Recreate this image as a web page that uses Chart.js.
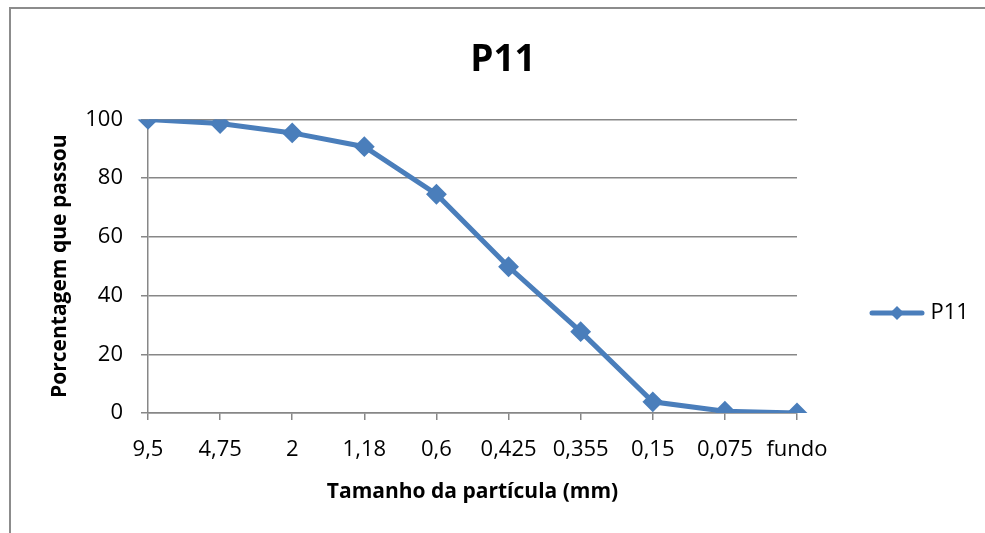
<!DOCTYPE html>
<html>
<head>
<meta charset="utf-8">
<script src="https://cdn.jsdelivr.net/npm/chart.js@4.4.1/dist/chart.umd.min.js"></script>
<style>
    html, body { margin: 0; padding: 0; background: #fff; overflow: hidden; }
    body { width: 985px; height: 533px; position: relative; }
    #frame {
        position: absolute; left: 9px; top: 7px;
        width: 1200px; height: 800px;
        border-left: 2px solid #8c8c8c; border-top: 2px solid #8c8c8c;
    }
    #wrap { position: absolute; left: 0; top: 0; width: 985px; height: 626px; }
</style>
</head>
<body>
<div id="frame"></div>
<div id="wrap"><canvas id="grafico"></canvas></div>
<script>
// dados da curva granulométrica
const peneiras = ['9,5', '4,75', '2', '1,18', '0,6', '0,425', '0,355', '0,15', '0,075', 'fundo'];
const passou = [100, 98.6, 95.4, 90.7, 74.5, 49.8, 27.7, 3.8, 0.6, 0];
const yTicks = [0, 20, 40, 60, 80, 100];

const azul = '#4a7ebb';
const cinza = '#878787';
const fonte = '"Open Sans", "Noto Sans", sans-serif';

// legenda: medidas para que a área do gráfico termine em x = 797
const legPadding = 77.5;
const legIcone = 45;
const legFonte = 22;

function larguraTexto(txt) {
    const g = document.createElement('canvas').getContext('2d');
    g.font = legFonte + 'px ' + fonte;
    return g.measureText(txt).width;
}
const larguraLegenda = legPadding + legIcone + legFonte / 2 + larguraTexto('P11') + 10;
const padDireita = 985 - 797 - larguraLegenda;
// título centrado em x ~ 503
const padEsquerda = 2 * 503 - 985 + padDireita;

// ícone da legenda: linha com losango
function iconeLegenda() {
    const c = document.createElement('canvas');
    c.width = 56;
    c.height = 20;
    const g = c.getContext('2d');
    g.strokeStyle = azul;
    g.lineWidth = 5;
    g.lineCap = 'round';
    g.beginPath();
    g.moveTo(3, 10);
    g.lineTo(53, 10);
    g.stroke();
    g.fillStyle = azul;
    g.beginPath();
    g.moveTo(28, 3);
    g.lineTo(35, 10);
    g.lineTo(28, 17);
    g.lineTo(21, 10);
    g.closePath();
    g.fill();
    return c;
}

Chart.defaults.font.family = fonte;
Chart.defaults.color = '#000';

new Chart(document.getElementById('grafico'), {
    type: 'line',
    data: {
        labels: peneiras,
        datasets: [{
            label: 'P11',
            data: passou,
            borderColor: azul,
            backgroundColor: azul,
            borderWidth: 5,
            pointStyle: 'rectRot',
            pointRadius: 9,
            pointBorderWidth: 2,
            tension: 0
        }]
    },
    options: {
        responsive: true,
        maintainAspectRatio: false,
        animation: false,
        layout: { padding: { left: padEsquerda, right: padDireita, top: 0, bottom: 0 } },
        plugins: {
            title: {
                display: true,
                text: 'P11',
                color: '#000',
                font: { size: 37, weight: 'bold' },
                padding: { top: 38, bottom: 37 }
            },
            legend: {
                position: 'right',
                labels: {
                    usePointStyle: true,
                    pointStyle: iconeLegenda(),
                    pointStyleWidth: legIcone,
                    padding: legPadding,
                    color: '#000',
                    font: { size: legFonte }
                }
            },
            tooltip: { enabled: false }
        },
        scales: {
            x: {
                type: 'category',
                offset: false,
                afterFit: function(scale) { scale.height = 213; },
                grid: {
                    drawOnChartArea: false,
                    drawTicks: true,
                    tickLength: 7,
                    color: cinza,
                    lineWidth: 1.5
                },
                border: { display: true, color: cinza, width: 1.5 },
                ticks: {
                    padding: 17,
                    maxRotation: 0,
                    autoSkip: false,
                    font: { size: 22 }
                },
                title: {
                    display: true,
                    text: 'Tamanho da partícula (mm)',
                    font: { size: 21, weight: 'bold' },
                    padding: { top: 0, bottom: 121 }
                }
            },
            y: {
                min: 0,
                max: 100,
                afterFit: function(scale) { scale.width = 148 - padEsquerda; },
                afterBuildTicks: function(scale) {
                    scale.ticks = yTicks.map(v => ({ value: v }));
                },
                grid: {
                    color: cinza,
                    lineWidth: 1.5,
                    tickLength: 7
                },
                border: { display: true, color: cinza, width: 1.5 },
                ticks: {
                    padding: 18,
                    font: { size: 22 }
                },
                title: {
                    display: true,
                    text: 'Porcentagem que passou',
                    font: { size: 21, weight: 'bold' },
                    padding: { top: 47 - padEsquerda, bottom: 0 }
                }
            }
        }
    }
});
</script>
</body>
</html>
